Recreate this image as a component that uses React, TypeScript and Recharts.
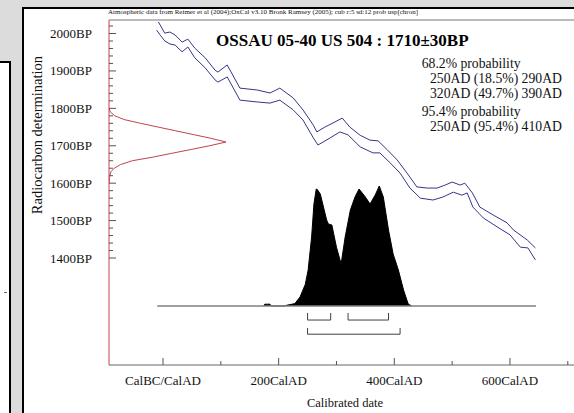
import React from 'react';
import { ComposedChart, Line, Area, XAxis, YAxis, ReferenceLine } from 'recharts';

// calibration curve (+/- 1 sigma), calendar year vs radiocarbon age
const calUpper = [
  { yr: -8, bp: 2031 }, { yr: 3, bp: 2001 }, { yr: 12, bp: 2004 }, { yr: 21, bp: 1996 },
  { yr: 33, bp: 1977 }, { yr: 43, bp: 1985 }, { yr: 55, bp: 1961 }, { yr: 73, bp: 1935 },
  { yr: 90, bp: 1902 }, { yr: 95, bp: 1897 }, { yr: 111, bp: 1916 }, { yr: 133, bp: 1854 },
  { yr: 163, bp: 1849 }, { yr: 185, bp: 1841 }, { yr: 202, bp: 1854 }, { yr: 225, bp: 1828 },
  { yr: 242, bp: 1796 }, { yr: 260, bp: 1755 }, { yr: 266, bp: 1737 }, { yr: 280, bp: 1750 },
  { yr: 294, bp: 1761 }, { yr: 310, bp: 1774 }, { yr: 323, bp: 1750 }, { yr: 341, bp: 1728 },
  { yr: 358, bp: 1715 }, { yr: 372, bp: 1713 }, { yr: 388, bp: 1689 }, { yr: 405, bp: 1662 },
  { yr: 422, bp: 1627 }, { yr: 439, bp: 1590 }, { yr: 457, bp: 1587 }, { yr: 474, bp: 1587 },
  { yr: 488, bp: 1595 }, { yr: 500, bp: 1603 }, { yr: 514, bp: 1595 }, { yr: 522, bp: 1600 },
  { yr: 535, bp: 1574 }, { yr: 548, bp: 1536 }, { yr: 571, bp: 1515 }, { yr: 595, bp: 1494 },
  { yr: 606, bp: 1475 }, { yr: 630, bp: 1448 }, { yr: 644, bp: 1427 },
];

const calLower = [
  { yr: -11, bp: 2009 }, { yr: -4, bp: 1994 }, { yr: 3, bp: 1980 }, { yr: 12, bp: 1972 },
  { yr: 21, bp: 1969 }, { yr: 33, bp: 1951 }, { yr: 43, bp: 1964 }, { yr: 55, bp: 1935 },
  { yr: 73, bp: 1908 }, { yr: 90, bp: 1876 }, { yr: 95, bp: 1870 }, { yr: 111, bp: 1884 },
  { yr: 133, bp: 1822 }, { yr: 163, bp: 1817 }, { yr: 185, bp: 1814 }, { yr: 202, bp: 1822 },
  { yr: 225, bp: 1796 }, { yr: 242, bp: 1769 }, { yr: 260, bp: 1721 }, { yr: 268, bp: 1702 },
  { yr: 289, bp: 1721 }, { yr: 306, bp: 1737 }, { yr: 320, bp: 1729 }, { yr: 341, bp: 1697 },
  { yr: 363, bp: 1681 }, { yr: 375, bp: 1681 }, { yr: 393, bp: 1654 }, { yr: 410, bp: 1627 },
  { yr: 427, bp: 1587 }, { yr: 445, bp: 1560 }, { yr: 467, bp: 1555 }, { yr: 484, bp: 1563 },
  { yr: 502, bp: 1576 }, { yr: 517, bp: 1568 }, { yr: 526, bp: 1574 }, { yr: 536, bp: 1536 },
  { yr: 554, bp: 1507 }, { yr: 578, bp: 1483 }, { yr: 600, bp: 1462 }, { yr: 618, bp: 1429 },
  { yr: 631, bp: 1427 }, { yr: 644, bp: 1395 },
];

// span of the calibrated distribution baseline
const calRange = [-10, 645];

// calibrated probability (relative to peak)
const density = [
  { yr: 174, p: 0 }, { yr: 176, p: 0.015 }, { yr: 185, p: 0.015 }, { yr: 187, p: 0 },
  { yr: 210, p: 0 }, { yr: 214, p: 0.006 }, { yr: 228, p: 0.02 }, { yr: 237, p: 0.075 },
  { yr: 246, p: 0.18 }, { yr: 251, p: 0.3 }, { yr: 257, p: 0.575 }, { yr: 261, p: 0.85 },
  { yr: 265, p: 0.975 }, { yr: 267, p: 0.97 }, { yr: 272, p: 0.933 }, { yr: 283, p: 0.717 },
  { yr: 286, p: 0.683 }, { yr: 292, p: 0.675 }, { yr: 300, p: 0.49 }, { yr: 308, p: 0.35 },
  { yr: 315, p: 0.575 }, { yr: 324, p: 0.8 }, { yr: 332, p: 0.908 }, { yr: 339, p: 0.975 },
  { yr: 350, p: 0.908 }, { yr: 358, p: 0.85 }, { yr: 367, p: 0.925 }, { yr: 374, p: 1 },
  { yr: 381, p: 0.908 }, { yr: 390, p: 0.633 }, { yr: 398, p: 0.433 }, { yr: 407, p: 0.3 },
  { yr: 416, p: 0.133 }, { yr: 424, p: 0.017 }, { yr: 430, p: 0 },
];

// radiocarbon measurement 1710 +/- 30 BP (relative to peak)
const c14Dist = [
  { bp: 1800, w: 0 }, { bp: 1790, w: 0.012 }, { bp: 1780, w: 0.05 }, { bp: 1770, w: 0.13 },
  { bp: 1760, w: 0.27 }, { bp: 1750, w: 0.42 }, { bp: 1740, w: 0.57 }, { bp: 1730, w: 0.72 },
  { bp: 1720, w: 0.87 }, { bp: 1710, w: 1 }, { bp: 1700, w: 0.86 }, { bp: 1690, w: 0.7 },
  { bp: 1680, w: 0.54 }, { bp: 1670, w: 0.38 }, { bp: 1660, w: 0.2 }, { bp: 1650, w: 0.1 },
  { bp: 1640, w: 0.045 }, { bp: 1630, w: 0.015 }, { bp: 1615, w: 0.004 }, { bp: 1600, w: 0 },
];

const ranges68 = [
  { from: 250, pct: 18.5, to: 290 },
  { from: 320, pct: 49.7, to: 390 },
];
const ranges95 = [{ from: 250, pct: 95.4, to: 410 }];

const xTickValues = [0, 100, 200, 300, 400, 500, 600, 700];
const xTickLabels = ['CalBC/CalAD', '', '200CalAD', '', '400CalAD', '', '600CalAD', ''];

const yTickValues = [
  1400, 1420, 1440, 1460, 1480, 1500, 1520, 1540, 1560, 1580, 1600, 1620, 1640, 1660, 1680,
  1700, 1720, 1740, 1760, 1780, 1800, 1820, 1840, 1860, 1880, 1900, 1920, 1940, 1960, 1980,
  2000, 2020,
];
const yTickLabels = ['1400BP', '1500BP', '1600BP', '1700BP', '1800BP', '1900BP', '2000BP'];

const title = 'OSSAU 05-40 US 504 : 1710\u00b130BP';
const sourceNote =
  'Atmospheric data from Reimer et al (2004);OxCal v3.10 Bronk Ramsey (2005); cub r:5 sd:12 prob usp[chron]';

const FONT = "'Liberation Serif', 'Times New Roman', serif";
const BLUE = '#36368a';
const RED = '#c2434d';

const xDomain = [-93.4, 790.3];
const yDomain = [1114.1, 2036.1];
const pDomain = [-0.4917, 2.3833];
const wDomain = [0, 4.368];

const XTick = ({ x, y, payload }: any) => {
  const label = xTickLabels[xTickValues.indexOf(payload.value)] || '';
  const major = label !== '';
  return (
    <g>
      <line x1={x} y1={y} x2={x} y2={y - (major ? 7 : 4)} stroke="#555" />
      {major && (
        <text x={x} y={y + 20} textAnchor="middle" fontSize={13} fontFamily={FONT} fill="#111">
          {label}
        </text>
      )}
    </g>
  );
};

const YTick = ({ x, y, payload }: any) => {
  const label = yTickLabels.find((l) => parseInt(l, 10) === payload.value);
  return (
    <g>
      <line x1={x} y1={y} x2={x + (label ? 7 : 4)} y2={y} stroke="#555" />
      {label && (
        <text x={x - 17} y={y + 4.5} textAnchor="end" fontSize={13} fontFamily={FONT} fill="#111">
          {label}
        </text>
      )}
    </g>
  );
};

const bracket = (r: { from: number; to: number }, top: number, bottom: number) => [
  { yr: r.from, p: top },
  { yr: r.from, p: bottom },
  { yr: r.to, p: bottom },
  { yr: r.to, p: top },
];

const legendRows = (() => {
  const rows: { text: string; indent: boolean; y: number }[] = [];
  let y = 68;
  [
    { level: '68.2%', ranges: ranges68 },
    { level: '95.4%', ranges: ranges95 },
  ].forEach((g, gi) => {
    if (gi > 0) y += 3;
    rows.push({ text: `${g.level} probability`, indent: false, y });
    y += 15;
    g.ranges.forEach((r) => {
      rows.push({ text: `${r.from}AD (${r.pct}%) ${r.to}AD`, indent: true, y });
      y += 15;
    });
  });
  return rows;
})();

export default function App() {
  return (
    <div
      style={{
        position: 'fixed',
        left: 0,
        top: 0,
        width: 574,
        height: 413,
        overflow: 'hidden',
        background: '#dcdcdc',
      }}
    >
      <div
        style={{
          position: 'absolute',
          left: 0,
          top: 61,
          width: 9,
          height: 400,
          background: '#fff',
          borderTop: '2px solid #000',
          borderRight: '2px solid #000',
        }}
      />
      <div style={{ position: 'absolute', left: 4, top: 292, width: 3, height: 1, background: '#666' }} />
      <div
        style={{
          position: 'absolute',
          left: 22,
          top: 7,
          width: 700,
          height: 500,
          background: '#fff',
          borderLeft: '2px solid #000',
          borderTop: '2px solid #000',
        }}
      />
      <div style={{ position: 'absolute', left: 0, top: 0 }}>
        <ComposedChart width={640} height={413} margin={{ top: 20, right: 20, bottom: 0, left: 0 }}>
          <XAxis
            xAxisId="yr"
            dataKey="yr"
            type="number"
            domain={xDomain}
            allowDataOverflow
            ticks={xTickValues}
            interval={0}
            tick={<XTick />}
            tickLine={false}
            tickSize={0}
            tickMargin={0}
            height={48}
            axisLine={{ stroke: '#666' }}
          />
          <XAxis
            xAxisId="w"
            dataKey="w"
            type="number"
            orientation="top"
            height={0}
            domain={wDomain}
            allowDataOverflow
            hide
          />
          <YAxis
            yAxisId="bp"
            type="number"
            domain={yDomain}
            allowDataOverflow
            ticks={yTickValues}
            interval={0}
            tick={<YTick />}
            tickLine={false}
            tickSize={0}
            tickMargin={0}
            width={109}
            axisLine={{ stroke: RED }}
          />
          <YAxis
            yAxisId="p"
            type="number"
            orientation="right"
            width={0}
            domain={pDomain}
            allowDataOverflow
            hide
          />
          <ReferenceLine xAxisId="yr" yAxisId="bp" y={yDomain[1]} stroke="#777" ifOverflow="visible" />

          <Line
            data={calUpper}
            xAxisId="yr"
            yAxisId="bp"
            dataKey="bp"
            stroke={BLUE}
            strokeWidth={1}
            dot={false}
            isAnimationActive={false}
          />
          <Line
            data={calLower}
            xAxisId="yr"
            yAxisId="bp"
            dataKey="bp"
            stroke={BLUE}
            strokeWidth={1}
            dot={false}
            isAnimationActive={false}
          />
          <Line
            data={c14Dist}
            xAxisId="w"
            yAxisId="bp"
            dataKey="bp"
            stroke={RED}
            strokeWidth={1}
            dot={false}
            isAnimationActive={false}
          />
          <Line
            data={[{ yr: calRange[0], p: 0 }, { yr: calRange[1], p: 0 }]}
            xAxisId="yr"
            yAxisId="p"
            dataKey="p"
            stroke="#808080"
            strokeWidth={1.6}
            dot={false}
            isAnimationActive={false}
          />
          <Area
            data={density}
            xAxisId="yr"
            yAxisId="p"
            dataKey="p"
            type="linear"
            baseValue={0}
            stroke="#000"
            strokeWidth={1}
            fill="#000"
            fillOpacity={1}
            isAnimationActive={false}
          />
          {ranges68.map((r, i) => (
            <Line
              key={`b68-${i}`}
              data={bracket(r, -0.058, -0.117)}
              xAxisId="yr"
              yAxisId="p"
              dataKey="p"
              stroke="#404040"
              strokeWidth={1}
              dot={false}
              isAnimationActive={false}
            />
          ))}
          {ranges95.map((r, i) => (
            <Line
              key={`b95-${i}`}
              data={bracket(r, -0.183, -0.235)}
              xAxisId="yr"
              yAxisId="p"
              dataKey="p"
              stroke="#404040"
              strokeWidth={1}
              dot={false}
              isAnimationActive={false}
            />
          ))}

          <text
            x={108}
            y={13.5}
            fontSize={7}
            fontFamily={FONT}
            fill="#111"
            textLength={310}
            lengthAdjust="spacingAndGlyphs"
          >
            {sourceNote}
          </text>
          <text x={216} y={46} fontSize={17} fontWeight="bold" fontFamily={FONT} fill="#000">
            {title}
          </text>
          {legendRows.map((row, i) => (
            <text
              key={i}
              x={row.indent ? 430 : 421.7}
              y={row.y}
              fontSize={13.7}
              fontFamily={FONT}
              fill="#111"
            >
              {row.text}
            </text>
          ))}
          <text
            x={41.5}
            y={135}
            transform="rotate(-90 41.5 135)"
            textAnchor="middle"
            fontSize={14.5}
            fontFamily={FONT}
            fill="#111"
          >
            Radiocarbon determination
          </text>
          <text x={345} y={407} textAnchor="middle" fontSize={12.5} fontFamily={FONT} fill="#111">
            Calibrated date
          </text>
        </ComposedChart>
      </div>
    </div>
  );
}
